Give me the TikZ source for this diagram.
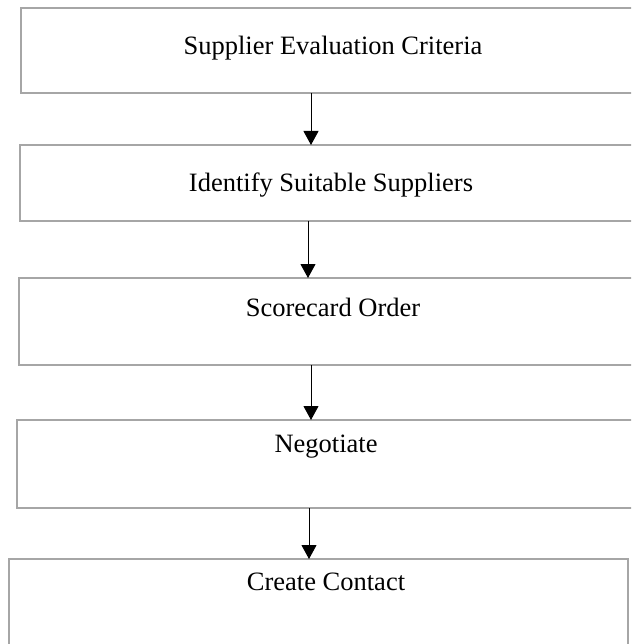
\documentclass[tikz,border=0pt]{standalone}
\usepackage{fontspec}
\setmainfont{Liberation Serif}
\usetikzlibrary{arrows.meta}
\tikzset{
  flowbox/.style={draw=boxgray, line width=2pt, fill=white, inner sep=0pt, outer sep=0pt},
  flowtext/.style={inner sep=0pt, font=\fontsize{26.5}{30}\selectfont, text=black},
  flowarrow/.style={draw=black, line width=1pt, -{Triangle[width=15pt,length=14pt]}, shorten >=0pt}
}
\definecolor{boxgray}{HTML}{A6A6A6}
\begin{document}
\begin{tikzpicture}[x=1pt,y=-1pt]
\clip (0,0) rectangle (631,644);
\fill[white] (0,0) rectangle (631,644);
% boxes
\node[flowbox, minimum width=629pt, minimum height=85pt] (b1) at (335.5,50.5) {};
\node[flowbox, minimum width=630pt, minimum height=76pt] (b2) at (335,183) {};
\node[flowbox, minimum width=631pt, minimum height=87pt] (b3) at (334.5,321.5) {};
\node[flowbox, minimum width=633pt, minimum height=88pt] (b4) at (333.5,464) {};
\node[flowbox, minimum width=619pt, minimum height=141pt] (b5) at (318.5,629.5) {};
% texts
\node[flowtext] (t1) at (333,48) {Supplier Evaluation Criteria};
\node[flowtext] (t2) at (331,185) {Identify Suitable Suppliers};
\node[flowtext] (t3) at (333,307) {Scorecard Order};
\node[flowtext] (t4) at (326,447) {Negotiate};
\node[flowtext] (t5) at (326,582) {Create Contact};
% arrows
\draw[flowarrow] (b1.south -| 311,0) -- (b2.north -| 311,0);
\draw[flowarrow] (b2.south -| 308,0) -- (b3.north -| 308,0);
\draw[flowarrow] (b3.south -| 311,0) -- (b4.north -| 311,0);
\draw[flowarrow] (b4.south -| 309,0) -- (b5.north -| 309,0);
\end{tikzpicture}
\end{document}
